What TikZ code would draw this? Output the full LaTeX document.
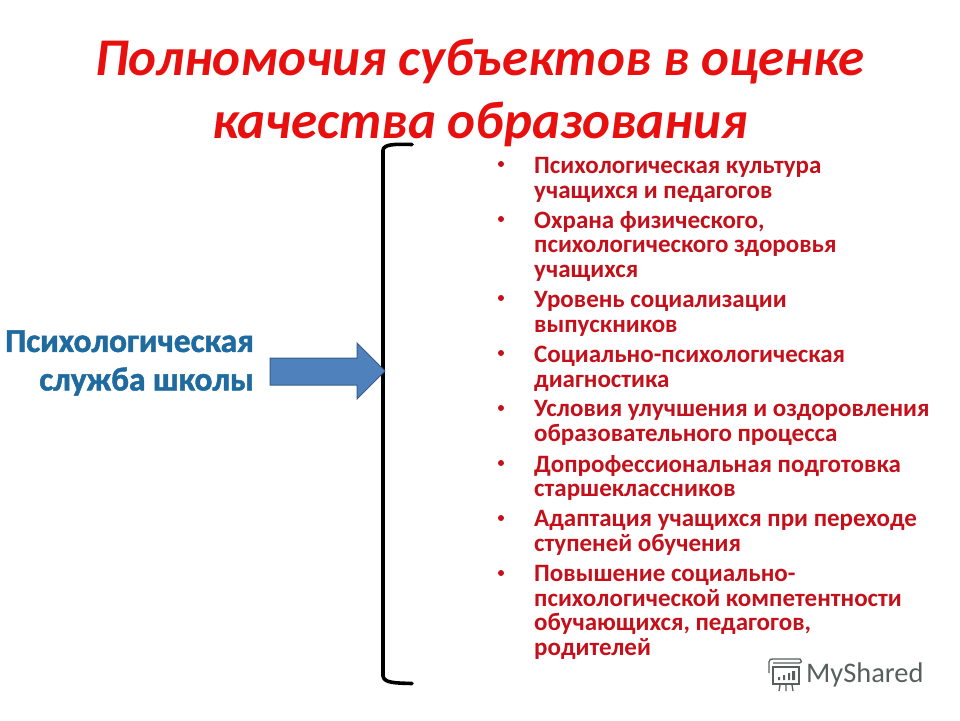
\documentclass[tikz,border=0pt]{standalone}
\usepackage{fontspec}
\setmainfont{Carlito}
\newfontfamily\servicefont[FakeBold=1.5]{Carlito}
\usepackage{xcolor}
\usetikzlibrary{positioning, shapes.arrows}
\definecolor{titlered}{HTML}{E8100F}
\definecolor{itemred}{HTML}{C4101A}
\definecolor{serviceblue}{HTML}{1F6A9E}
\definecolor{arrowblue}{HTML}{4F81BD}
\definecolor{arrowedge}{HTML}{385D8A}
\definecolor{markgray}{HTML}{555F5B}
\tikzset{
    titleline/.style={inner sep=0pt, text=titlered, font=\fontsize{53}{60}\selectfont\bfseries\itshape},
    servicetext/.style={inner sep=0pt, align=right, anchor=east, text=serviceblue, font=\fontsize{33.4}{38.5}\selectfont\servicefont\bfseries},
    itemtext/.style={inner sep=0pt, anchor=north west, align=left, text=itemred, font=\fontsize{25}{24.6}\selectfont\bfseries},
    itemdot/.style={circle, fill=itemred, inner sep=0pt, minimum size=6pt},
    markicon/.style={draw=markgray, line width=1.3pt},
}
\begin{document}
\begin{tikzpicture}[x=1pt, y=-1pt]
    \useasboundingbox (0,0) rectangle (960,720);
    \node[titleline] (title1) at (480,62) {Полномочия субъектов в оценке};
    \node[titleline] (title2) at (480,124) {качества образования};
    % bracket
    \draw[line width=3.6pt, line cap=round, line join=round] (412,144.5) .. controls (395,144) and (384,144) .. (383,150) -- (383,676) .. controls (384,683) and (395,683) .. (412,683.5);
    % arrow
    \node[servicetext] (service) at (254,363) {Психологическая\\служба школы};
    \draw[arrowedge, fill=arrowblue, line width=1pt] (270,358) -- (357,358) -- (357,343) -- (385,371) -- (357,399) -- (357,385) -- (270,385) -- cycle;
    % items
    \node[itemtext] (item1) at (534,157) {Психологическая культура\\учащихся и педагогов};
    \node[itemtext] (item2) at (534,211) {Охрана физического,\\психологического здоровья\\учащихся};
    \node[itemtext] (item3) at (534,291) {Уровень социализации\\выпускников};
    \node[itemtext] (item4) at (534,346) {Социально-психологическая\\диагностика};
    \node[itemtext] (item5) at (534,400) {Условия улучшения и оздоровления\\образовательного процесса};
    \node[itemtext] (item6) at (534,455) {Допрофессиональная подготовка\\старшеклассников};
    \node[itemtext] (item7) at (534,510) {Адаптация учащихся при переходе\\ступеней обучения};
    \node[itemtext] (item8) at (534,565) {Повышение социально-\\психологической компетентности\\обучающихся, педагогов,\\родителей};
    \foreach \n/\y in {1/164,2/219,3/298,4/353,5/408,6/463,7/518,8/573}
        \node[itemdot] (dot\n) at (501,\y) {};
    % logo
    \node[inner sep=0pt, anchor=west, text=markgray, font=\fontsize{28.4}{30}\selectfont] (logotext) at (806,675) {MyShared};
    \draw[markicon] (773,667) rectangle (799,684);
    \draw[markicon] (769,673) -- (769,662) .. controls (769,659) and (771,659) .. (773,659) -- (800,659) .. controls (802,660) and (802,663) .. (799,663) -- (773,663);
    \draw[markicon] (780,685) -- (779,691) (786,685) -- (786,691) (792,685) -- (793,691);
    \fill[markgray] (778,677) rectangle (780,680) (783,675) rectangle (785,680) (788,673) rectangle (790,680) (792,671) rectangle (795,680);
\end{tikzpicture}
\end{document}
